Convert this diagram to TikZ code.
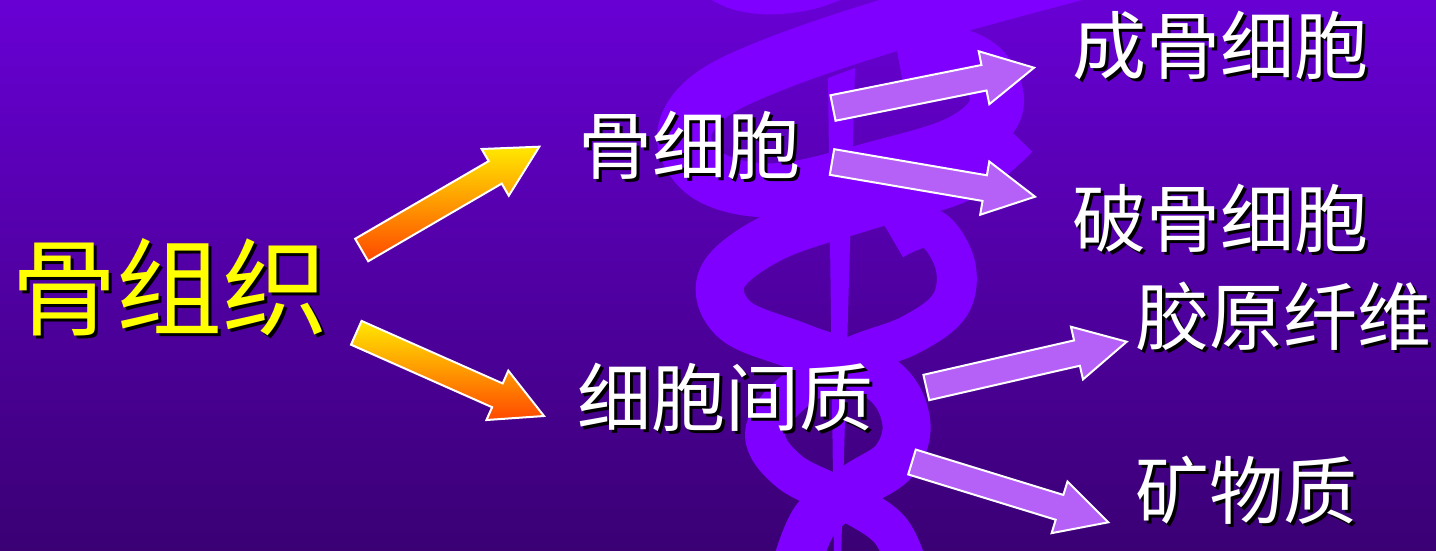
\documentclass[tikz,border=0pt]{standalone}
\usepackage{fontspec}
\usetikzlibrary{calc}
\newfontfamily\cjk{Noto Sans CJK SC}

\definecolor{bgtop}{RGB}{104,0,212}
\definecolor{bgbot}{RGB}{58,0,116}
\definecolor{coil}{RGB}{128,0,255}
\definecolor{lilac}{RGB}{181,96,246}
\definecolor{gold}{RGB}{255,232,0}
\definecolor{flame}{RGB}{255,72,0}
\definecolor{lemon}{RGB}{255,255,0}

% text with a hard black drop shadow
\newcommand{\shadowed}[2]{\rlap{\kern3pt\smash{\raisebox{-3pt}{\color{black}#2}}}{\color{#1}#2}}

% block arrow from a tail point to a tip point
\newcommand{\shaftw}{13pt}
\newcommand{\headw}{27pt}
\newcommand{\headlen}{51pt}
\newcommand{\blockarrow}[3]{%
  \coordinate (#2-hb) at ($(#3)!\headlen!(#2)$);
  \path[#1] ($(#2)!\shaftw!90:(#3)$)
    -- ($(#2-hb)!\shaftw!90:(#3)$)
    -- ($(#2-hb)!\headw!90:(#3)$)
    -- (#3)
    -- ($(#2-hb)!\headw!-90:(#3)$)
    -- ($(#2-hb)!\shaftw!-90:(#3)$)
    -- ($(#2)!\shaftw!-90:(#3)$)
    -- cycle;}

\tikzset{
  coilband/.style={draw=coil, line cap=butt, line join=round},
  label/.style={inner sep=0pt, font=\cjk\fontsize{74}{80}\selectfont},
  title/.style={inner sep=0pt, font=\cjk\fontsize{106}{112}\selectfont},
  warmarrow/.style={top color=gold, bottom color=flame, draw=white, line width=2pt, line join=miter, shade},
  coolarrow/.style={fill=lilac, draw=white, line width=2pt, line join=miter},
}

\begin{document}
\begin{tikzpicture}[x=1pt, y=-1pt]
  \useasboundingbox (0,0) rectangle (1436,550);
  \clip (0,0) rectangle (1436,550);

  % background
  \shade[top color=bgtop, bottom color=bgbot] (0,0) rectangle (1436,550);

  % staff and coiled serpents
  \fill[coil] (828,78) -- (855,68) -- (841,560) -- (834,560) -- cycle;
  \draw[coilband, line width=45pt] plot[smooth, tension=0.6] coordinates
    {(685,-45) (740,-12) (805,-12) (875,-40)};
  \draw[coilband, line width=54pt] plot[smooth, tension=0.6] coordinates
    {(1090,-30) (900,22) (770,66) (705,100) (684,140) (712,178) (780,190)
     (880,167) (960,142) (996,108) (984,70) (945,52) (898,56)};
  \draw[coilband, line width=48pt] plot[smooth, tension=0.6] coordinates
    {(1015,135) (960,178) (860,208) (772,238) (722,278) (735,320) (800,347)
     (880,378) (906,420) (895,460) (855,487) (815,520) (795,570)};
  \draw[coilband, line width=40pt] plot[smooth, tension=0.6] coordinates
    {(893,240) (930,228) (955,264) (950,305) (910,335) (850,358) (790,395)
     (765,435) (790,472) (845,500) (890,530) (910,575)};

  % labels
  \node[title] (bone) at (170,287) {\shadowed{lemon}{骨组织}};
  \node[label] (cell) at (689,145) {\shadowed{white}{骨细胞}};
  \node[label] (matrix) at (725,397) {\shadowed{white}{细胞间质}};
  \node[label] (blast) at (1220,45) {\shadowed{white}{成骨细胞}};
  \node[label] (clast) at (1220,218) {\shadowed{white}{破骨细胞}};
  \node[label] (fiber) at (1283,316) {\shadowed{white}{胶原纤维}};
  \node[label] (mineral) at (1246,490) {\shadowed{white}{矿物质}};

  % arrow ends
  \coordinate (a1) at (361.7,250);   \coordinate (a1t) at (539.3,146.7);
  \coordinate (a2) at (356.3,332.8); \coordinate (a2t) at (544,416);
  \coordinate (b1) at (833,108);     \coordinate (b1t) at (1034,67.7);
  \coordinate (b2) at (832,162);     \coordinate (b2t) at (1035,196.7);
  \coordinate (b3) at (926.3,387.5); \coordinate (b3t) at (1126.7,341.7);
  \coordinate (b4) at (912,462);     \coordinate (b4t) at (1108.3,522.3);

  % arrows
  \blockarrow{warmarrow}{a1}{a1t}
  \blockarrow{warmarrow}{a2}{a2t}
  \blockarrow{coolarrow}{b1}{b1t}
  \blockarrow{coolarrow}{b2}{b2t}
  \blockarrow{coolarrow}{b3}{b3t}
  \blockarrow{coolarrow}{b4}{b4t}
\end{tikzpicture}
\end{document}
